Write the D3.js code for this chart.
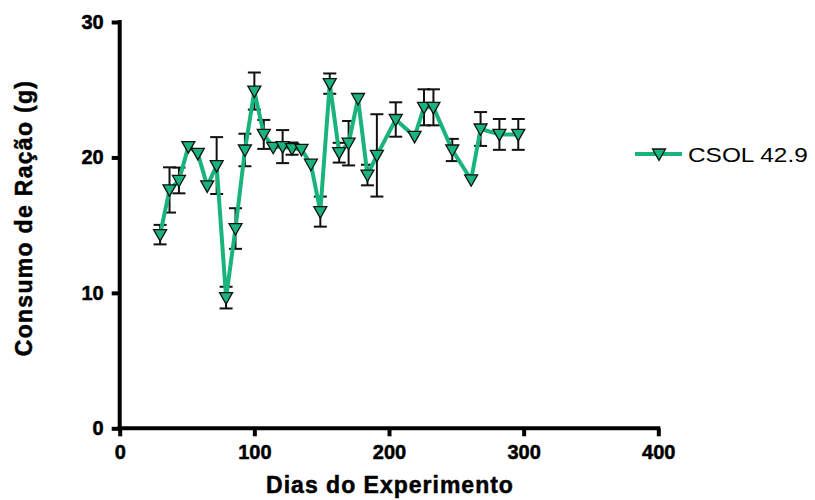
<!DOCTYPE html>
<html>
<head>
<meta charset="utf-8">
<script src="https://d3js.org/d3.v7.min.js"></script>
<style>
  body { margin: 0; background: #fff; }
  text { font-family: Arial, "Liberation Sans", sans-serif; }
  .tick text { font-size: 20px; font-weight: bold; fill: #000; }
  .heavy { stroke: #000; stroke-width: 0.5px; }
</style>
</head>
<body>
<div id="chart"></div>
<script>
// days of experiment, mean feed intake (g), error (SD)
var days = [30, 37, 44, 51, 58, 65, 72, 79, 86, 93, 100, 107, 114, 121, 128, 135,
            142, 149, 156, 163, 170, 177, 184, 191, 205, 219, 226, 233, 247, 261, 268, 282, 296];
var consumo = [14.3, 17.6, 18.3, 20.8, 20.3, 17.9, 19.4, 9.65, 14.75, 20.55, 24.9, 21.7, 20.75, 20.8, 20.65, 20.6,
               19.5, 16.0, 25.45, 20.35, 21.05, 24.35, 18.7, 20.15, 22.8, 21.55, 23.7, 23.7, 20.55, 18.35, 22.1, 21.7, 21.7];
var erro = [0.72, 1.67, 0.95, 0, 0, 0, 2.1, 0.8, 1.5, 1.2, 1.37, 1.07, 0, 1.22, 0.45, 0,
            0, 1.11, 0.75, 0.73, 1.64, 0, 0.76, 3.04, 1.27, 0, 1.33, 1.33, 0.82, 0, 1.25, 1.14, 1.14];
var xTicks = [0, 100, 200, 300, 400];
var yTicks = [0, 10, 20, 30];
var serieNome = "CSOL 42.9";

var width = 815, height = 500;
var verde = "#19b47c";

var svg = d3.select("#chart").append("svg")
  .attr("width", width).attr("height", height);

var x = d3.scaleLinear().domain([0, 400]).range([119.7, 658.3]);
var y = d3.scaleLinear().domain([0, 30]).range([428.3, 22]);

var data = days.map(function(d, i) { return { x: d, y: consumo[i], e: erro[i] }; });

// axes
var xAxis = svg.append("g").attr("transform", "translate(0," + y(0) + ")")
  .call(d3.axisBottom(x).tickValues(xTicks).tickSize(8).tickPadding(9).tickSizeOuter(0));
var yAxis = svg.append("g").attr("transform", "translate(" + x(0) + ",0)")
  .call(d3.axisLeft(y).tickValues(yTicks).tickSize(8).tickPadding(8).tickSizeOuter(0));

[xAxis, yAxis].forEach(function(a) {
  a.attr("font-size", 20).attr("font-weight", "bold")
   .attr("font-family", "Arial, 'Liberation Sans', sans-serif");
  a.select(".domain").attr("stroke", "#000").attr("stroke-width", 4);
  a.selectAll(".tick line").attr("stroke", "#000").attr("stroke-width", 4);
  a.selectAll(".tick text").attr("class", "heavy").attr("fill", "#000");
});
xAxis.select(".domain").attr("d", "M" + (x(0) - 2) + ",0H" + (x(400) + 2));
yAxis.select(".domain").attr("d", "M0," + (y(0) + 2) + "V" + (y(30) - 2));

// axis titles
svg.append("text").attr("class", "heavy")
  .attr("x", 390).attr("y", 493)
  .attr("text-anchor", "middle")
  .style("font-size", "23px").style("font-weight", "bold")
  .style("letter-spacing", "1px")
  .text("Dias do Experimento");

svg.append("text").attr("class", "heavy")
  .attr("transform", "translate(32,218) rotate(-90)")
  .attr("text-anchor", "middle")
  .style("font-size", "23px").style("font-weight", "bold")
  .style("letter-spacing", "1.3px")
  .text("Consumo de Ração (g)");

// error bars
var eb = svg.append("g").selectAll("g").data(data.filter(function(d) { return d.e > 0; }))
  .enter().append("g");
eb.append("line")
  .attr("x1", function(d) { return x(d.x); }).attr("x2", function(d) { return x(d.x); })
  .attr("y1", function(d) { return y(d.y + d.e); }).attr("y2", function(d) { return y(d.y - d.e); })
  .attr("stroke", "#111").attr("stroke-width", 2);
eb.selectAll(".cap").data(function(d) { return [[d.x, d.y + d.e], [d.x, d.y - d.e]]; })
  .enter().append("line")
  .attr("x1", function(d) { return x(d[0]) - 6.5; }).attr("x2", function(d) { return x(d[0]) + 6.5; })
  .attr("y1", function(d) { return y(d[1]); }).attr("y2", function(d) { return y(d[1]); })
  .attr("stroke", "#111").attr("stroke-width", 2);

// line
var line = d3.line().x(function(d) { return x(d.x); }).y(function(d) { return y(d.y); });
svg.append("path").datum(data)
  .attr("d", line)
  .attr("fill", "none").attr("stroke", verde).attr("stroke-width", 4)
  .attr("stroke-linejoin", "round");

// markers (inverted triangles)
var tri = "M-6.5,-5L6.5,-5L0,6.5Z";
svg.append("g").selectAll("path").data(data).enter().append("path")
  .attr("d", tri)
  .attr("transform", function(d) { return "translate(" + x(d.x) + "," + y(d.y) + ")"; })
  .attr("fill", verde).attr("stroke", "#111").attr("stroke-width", 1.3);

// legend
var lg = svg.append("g").attr("transform", "translate(635,154)");
lg.append("line").attr("x1", 0).attr("x2", 47).attr("y1", 0).attr("y2", 0)
  .attr("stroke", verde).attr("stroke-width", 4);
lg.append("path").attr("d", tri).attr("transform", "translate(24,0)")
  .attr("fill", verde).attr("stroke", "#111").attr("stroke-width", 1.3);
lg.append("text").attr("transform", "translate(53,8) scale(1.22,1)")
  .style("font-size", "20px").attr("fill", "#000")
  .text(serieNome);
</script>
</body>
</html>
